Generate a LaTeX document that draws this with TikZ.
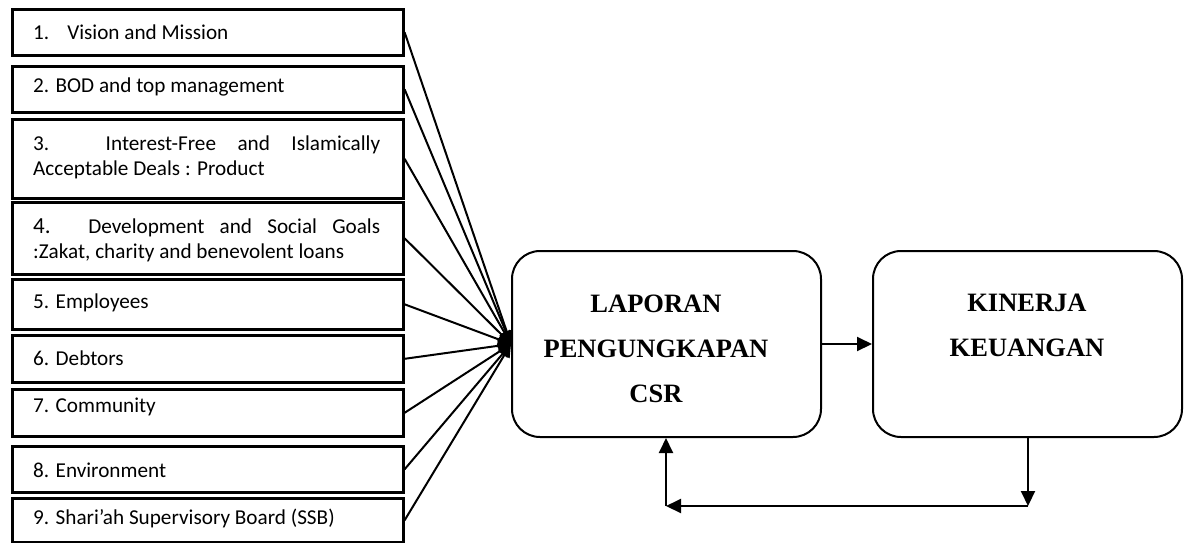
\documentclass[tikz,border=0pt]{standalone}
\usepackage{fontspec}
\setmainfont{Liberation Serif}
\newfontfamily\calfont{Carlito}
\usetikzlibrary{arrows.meta}
\tolerance=10000\relax
\hbadness=10000\relax
\begin{document}
\begin{tikzpicture}[x=1pt,y=-1pt,
  lbox/.style={draw, line width=2.6pt, minimum width=391pt, inner sep=0pt, anchor=north west},
  ltext/.style={font=\calfont\fontsize{21.2}{25}\selectfont, anchor=base west, inner sep=0pt},
  jtext/.style={ltext, text width=347pt, align=justify},
  rbox/.style={draw, line width=2pt, rounded corners=28pt, minimum width=309pt, minimum height=186pt, inner sep=0pt},
  btext/.style={font=\bfseries\fontsize{26.5}{45}\selectfont, align=center, inner sep=0pt},
  conn/.style={line width=2pt, -{Triangle[length=15pt,width=14pt]}},
  fan/.style={line width=2pt, -{Triangle[length=13pt,width=12pt]}},
]
\useasboundingbox (0,0) rectangle (1189,542);
% left boxes
\node[lbox, minimum height=46pt] (b1) at (11,8) {};
\node[lbox, minimum height=46pt] (b2) at (11,65) {};
\node[lbox, minimum height=79pt] (b3) at (11,118) {};
\node[lbox, minimum height=72pt] (b4) at (11,201) {};
\node[lbox, minimum height=50pt] (b5) at (11,278) {};
\node[lbox, minimum height=47pt] (b6) at (11,334) {};
\node[lbox, minimum height=47pt] (b7) at (11,388) {};
\node[lbox, minimum height=46pt] (b8) at (11,445) {};
\node[lbox, minimum height=44pt] (b9) at (11,497) {};
% texts
\node[ltext] (t1) at (33,39) {1.\hspace{18pt}Vision and Mission};
\node[ltext] (t2) at (33,92) {2. BOD and top management};
\node[jtext] (t3) at (33,150) {3. Interest-Free and Islamically\linebreak Acceptable Deals : Product};
\node[jtext] (t4) at (33,233) {{\fontsize{23}{25}\selectfont 4.} Development and Social Goals\linebreak :Zakat, charity and benevolent loans};
\node[ltext] (t5) at (33,308) {5. Employees};
\node[ltext] (t6) at (33,365) {6. Debtors};
\node[ltext] (t7) at (33,412) {7. Community};
\node[ltext] (t8) at (33,477) {8. Environment};
\node[ltext] (t9) at (33,524) {9. Shari’ah Supervisory Board (SSB)};
% main boxes
\node[rbox] (csr) at (666.5,344) {};
\node[btext] (csrt) at (656,348.5) {LAPORAN\\PENGUNGKAPAN\\CSR};
\node[rbox] (k) at (1027.5,344) {};
\node[btext] (kt) at (1027,325) {KINERJA\\KEUANGAN};
% fan connectors
\foreach \i in {1,...,9} \draw[fan] (b\i.east) -- (csr.west);
% main arrows
\draw[conn] (csr.east) -- (k.west);
\coordinate (c1) at (1028,506);
\coordinate (c2) at (666,506);
\draw[conn] (k.south -| c1) -- (c1);
\draw[conn] (c1) -- (c2);
\draw[conn] (c2) -- (c2 |- csr.south);
\end{tikzpicture}
\end{document}
